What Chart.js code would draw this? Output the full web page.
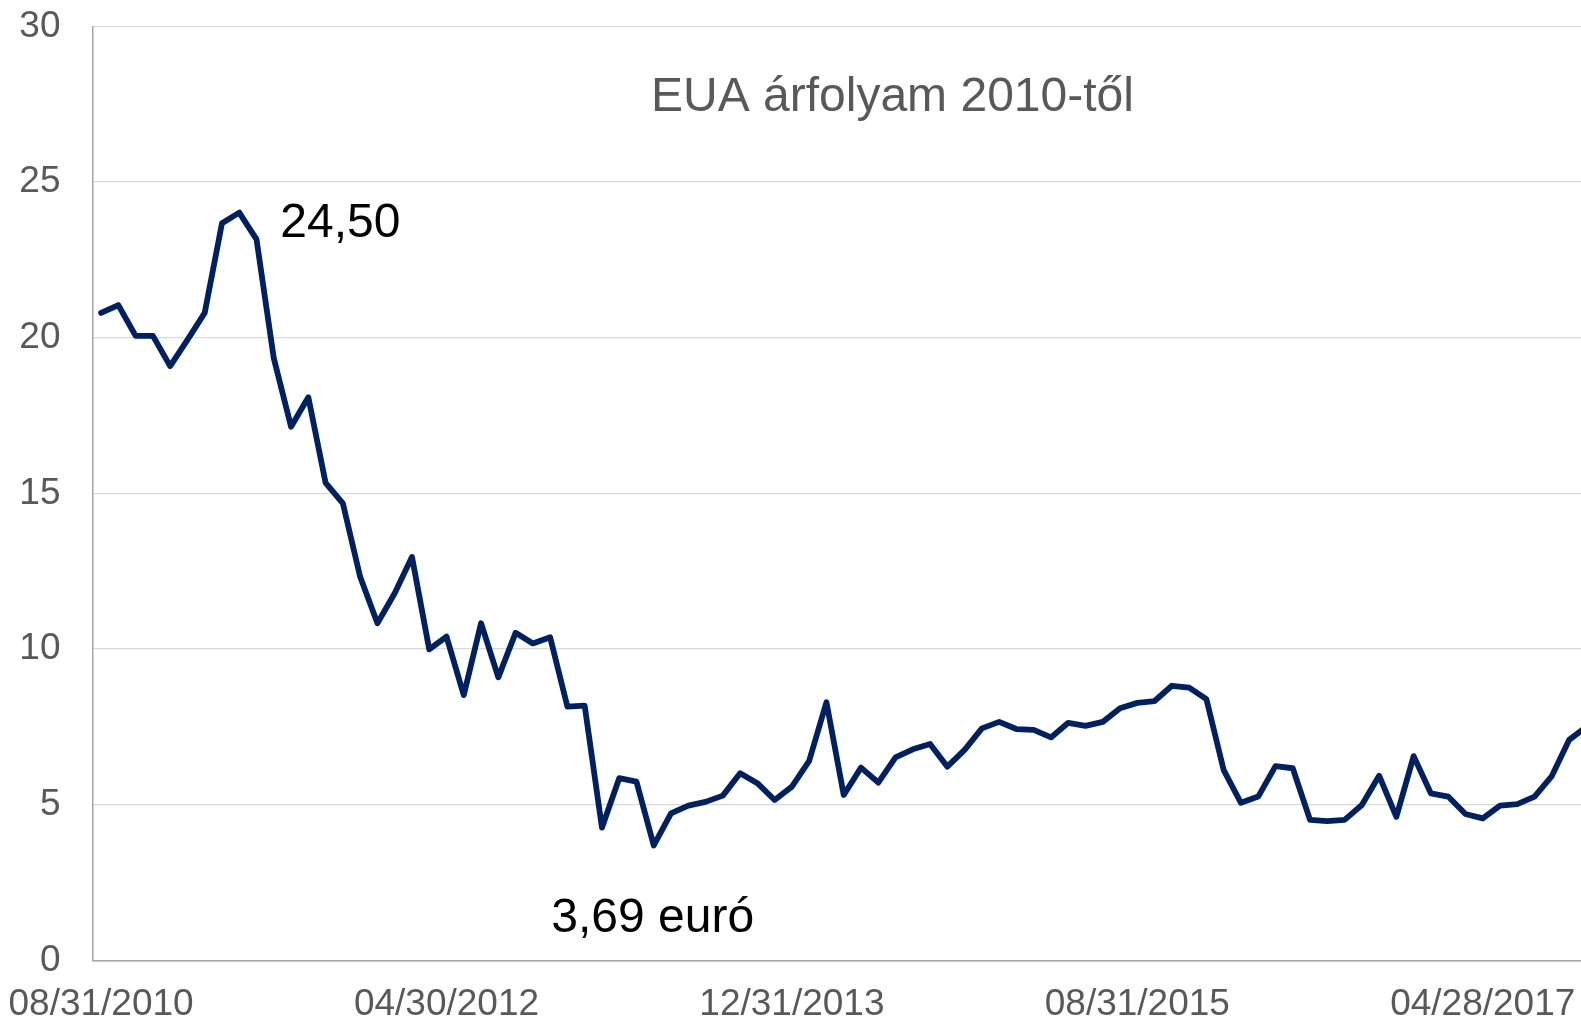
<!DOCTYPE html>
<html>
<head>
<meta charset="utf-8">
<title>EUA árfolyam 2010-től</title>
<script src="https://cdn.jsdelivr.net/npm/chart.js@4.4.1/dist/chart.umd.min.js"></script>
<style>
    html, body { margin: 0; padding: 0; background: #fff; overflow: hidden; }
    #wrap { position: relative; width: 1595px; height: 1023px; }
</style>
</head>
<body>
<div id="wrap"><canvas id="eua"></canvas></div>
<script>
// havi záróárak (EUA, euró)
const categories = [
    '08/31/2010', '09/30/2010', '10/31/2010', '11/30/2010', '12/31/2010',
    '01/31/2011', '02/28/2011', '03/31/2011', '04/30/2011', '05/31/2011', '06/30/2011',
    '07/31/2011', '08/31/2011', '09/30/2011', '10/31/2011', '11/30/2011', '12/31/2011',
    '01/31/2012', '02/29/2012', '03/31/2012', '04/30/2012', '05/31/2012', '06/30/2012',
    '07/31/2012', '08/31/2012', '09/30/2012', '10/31/2012', '11/30/2012', '12/31/2012',
    '01/31/2013', '02/28/2013', '03/31/2013', '04/30/2013', '05/31/2013', '06/30/2013',
    '07/31/2013', '08/31/2013', '09/30/2013', '10/31/2013', '11/30/2013', '12/31/2013',
    '01/31/2014', '02/28/2014', '03/31/2014', '04/30/2014', '05/31/2014', '06/30/2014',
    '07/31/2014', '08/31/2014', '09/30/2014', '10/31/2014', '11/30/2014', '12/31/2014',
    '01/31/2015', '02/28/2015', '03/31/2015', '04/30/2015', '05/31/2015', '06/30/2015',
    '07/31/2015', '08/31/2015', '09/30/2015', '10/31/2015', '11/30/2015', '12/31/2015',
    '01/31/2016', '02/29/2016', '03/31/2016', '04/30/2016', '05/31/2016', '06/30/2016',
    '07/31/2016', '08/31/2016', '09/30/2016', '10/31/2016', '11/30/2016', '12/31/2016',
    '01/31/2017', '02/28/2017', '03/31/2017', '04/28/2017', '05/31/2017', '06/30/2017',
    '07/31/2017', '08/31/2017', '09/30/2017', '10/31/2017'
];

const euaPrices = [
    20.80, 21.05, 20.06, 20.06, 19.09,
    19.93, 20.80, 23.68, 24.02, 23.16, 19.34,
    17.14, 18.09, 15.34, 14.68, 12.32, 10.83,
    11.79, 12.96, 9.99, 10.40, 8.52, 10.83,
    9.09, 10.52, 10.18, 10.38, 8.15, 8.18,
    4.26, 5.85, 5.74, 3.69, 4.72, 4.97,
    5.09, 5.29, 6.01, 5.69, 5.15, 5.58,
    6.41, 8.29, 5.31, 6.19, 5.71, 6.52,
    6.78, 6.95, 6.22, 6.76, 7.45, 7.66,
    7.43, 7.40, 7.16, 7.63, 7.53, 7.66,
    8.10, 8.27, 8.33, 8.82, 8.76, 8.39,
    6.11, 5.06, 5.26, 6.24, 6.17, 4.51,
    4.47, 4.51, 4.99, 5.93, 4.61, 6.56,
    5.36, 5.26, 4.70, 4.56, 4.97, 5.02,
    5.26, 5.92, 7.08, 7.50
];

const tickLabels = ['08/31/2010', '04/30/2012', '12/31/2013', '08/31/2015', '04/28/2017'];
const yMin = 0;
const yMax = 30;
const yStep = 5;

const chartTitle = 'EUA árfolyam 2010-től';
const maxNote = '24,50';
const minNote = '3,69 euró';

const FONT = "'Liberation Sans', Arial, sans-serif";
const GREY = '#595959';
const AXIS = '#a6a6a6';

// szövegek: cím + a csúcs / mélypont felirata
const notesPlugin = {
    id: 'notes',
    afterDatasetsDraw(chart) {
        const { ctx, chartArea } = chart;
        const meta = chart.getDatasetMeta(0);
        const peak = meta.data[euaPrices.indexOf(Math.max(...euaPrices))];
        const low = meta.data[euaPrices.indexOf(Math.min(...euaPrices))];

        ctx.save();
        ctx.font = `48px ${FONT}`;
        ctx.textBaseline = 'alphabetic';

        ctx.fillStyle = GREY;
        ctx.textAlign = 'center';
        ctx.fillText(chartTitle, chartArea.left + 800, chartArea.top + 84);

        ctx.fillStyle = '#000';
        ctx.textAlign = 'left';
        ctx.fillText(maxNote, peak.x + 41, peak.y + 24);

        ctx.textAlign = 'center';
        ctx.fillText(minNote, low.x - 1, low.y + 87);
        ctx.restore();
    }
};

new Chart(document.getElementById('eua'), {
    type: 'line',
    data: {
        labels: categories,
        datasets: [{
            label: 'EUA',
            data: euaPrices,
            borderColor: '#002060',
            borderWidth: 5.8,
            borderJoinStyle: 'round',
            borderCapStyle: 'round',
            pointRadius: 0,
            tension: 0,
            fill: false
        }]
    },
    options: {
        responsive: true,
        maintainAspectRatio: false,
        animation: false,
        layout: {
            padding: { left: 19.3, top: 26.5, right: 0, bottom: 0 }
        },
        plugins: {
            legend: { display: false },
            title: { display: false },
            tooltip: { enabled: false }
        },
        scales: {
            x: {
                type: 'category',
                offset: true,
                // a tick-hossz adja a címkék távolságát, maga a jel láthatatlan
                grid: { display: true, drawOnChartArea: false, drawTicks: true, tickLength: 25.7, color: 'rgba(0,0,0,0)', tickColor: 'rgba(0,0,0,0)' },
                border: { display: true, color: AXIS, width: 1.5 },
                ticks: {
                    autoSkip: false,
                    maxRotation: 0,
                    minRotation: 0,
                    padding: 0,
                    color: GREY,
                    font: { family: FONT, size: 37, lineHeight: 1 },
                    callback(value) {
                        const lab = this.getLabelForValue(value);
                        return tickLabels.includes(lab) ? lab : '';
                    }
                }
            },
            y: {
                min: yMin,
                max: yMax,
                grid: { color: '#d9d9d9', lineWidth: 1.3, drawTicks: true, tickLength: 32, tickColor: 'rgba(0,0,0,0)' },
                border: { display: true, color: AXIS, width: 1.5 },
                ticks: {
                    stepSize: yStep,
                    padding: 0,
                    color: GREY,
                    font: { family: FONT, size: 37 }
                }
            }
        }
    },
    plugins: [notesPlugin]
});
</script>
</body>
</html>
